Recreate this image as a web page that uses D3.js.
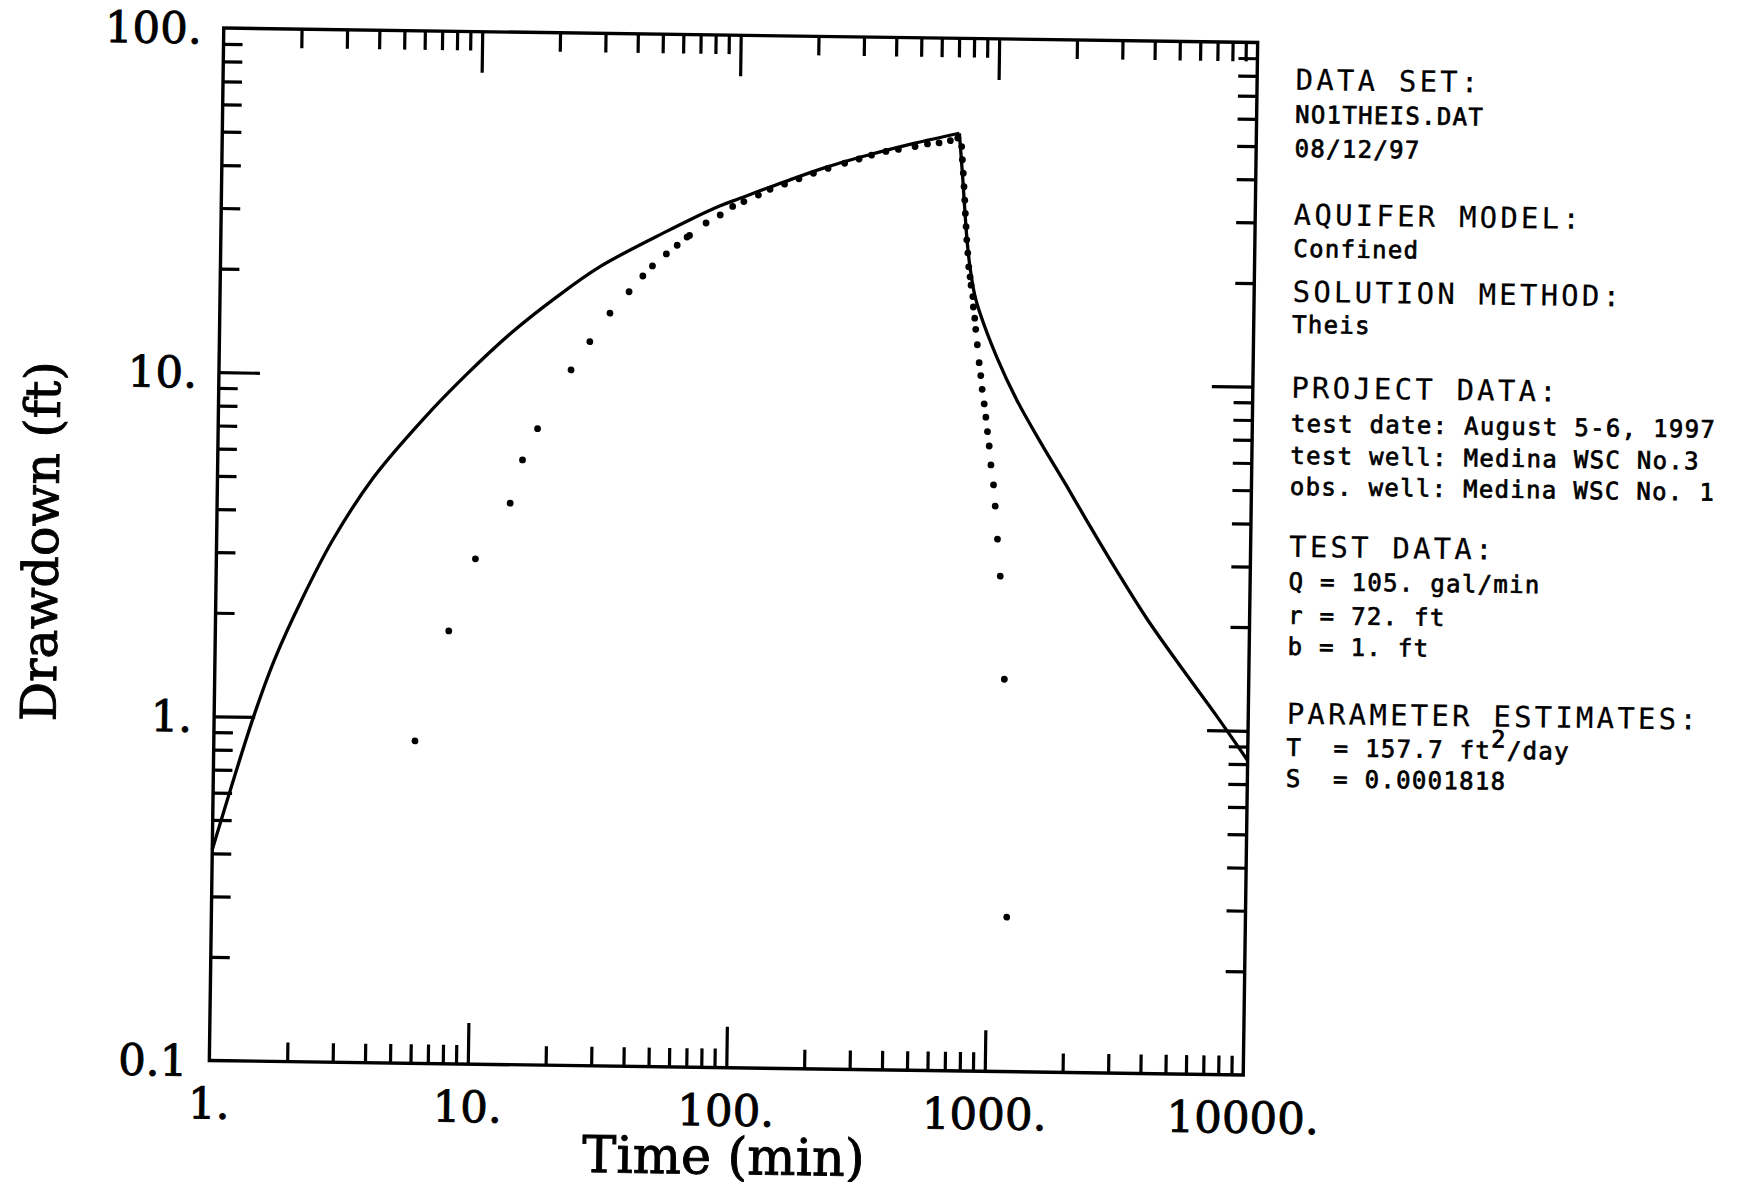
<!DOCTYPE html>
<html><head><meta charset="utf-8">
<script src="https://cdn.jsdelivr.net/npm/d3@7"></script>
<style>
html,body{margin:0;padding:0;background:#fff;}
svg{display:block;}
</style></head>
<body>
<svg id="chart" width="1742" height="1182"></svg>
<script>
// ---------- data ----------
// observed drawdown during pumping (time in min, drawdown in ft)
const pumpTime = [6.0, 8.0, 10.05, 13.6, 15.1, 17.2, 23.0, 27.1, 32.3, 38.2, 43.1, 46.9, 53, 58.3, 63.6, 65, 75.2, 85.2, 95.1, 105, 119.4, 132.4, 150.5, 171.1, 194.5, 221.3, 256.5, 291.5, 325.5, 370, 413, 479, 535, 593, 655.6, 700];
const pumpDrawdown = [0.865, 1.81, 2.94, 4.28, 5.72, 7.06, 10.5, 12.7, 15.4, 17.8, 19.8, 21.2, 23.0, 24.4, 25.8, 26.1, 28.4, 30.0, 31.8, 32.9, 34.4, 35.8, 37.1, 38.5, 40.0, 41.4, 42.9, 44.2, 45.4, 46.6, 47.3, 48.3, 49.2, 49.6, 50.4, 51.3];
// observed drawdown during recovery
const recTime = [726, 731.6, 738.7, 744.7, 750.8, 756.2, 762.2, 768.4, 776.6, 784.3, 794.9, 802.6, 816.4, 821.5, 832.9, 841.4, 855, 871, 885.2, 897.5, 915.7, 931, 946, 962.5, 979.7, 1005, 1023, 1048, 1079, 1134, 1193];
const recDrawdown = [48.5, 44.4, 40.6, 37.1, 33.9, 31.0, 28.4, 26.0, 23.8, 21.7, 20.3, 19.2, 17.8, 16.6, 15.4, 14.3, 12.9, 11.44, 10.5, 9.58, 8.69, 7.95, 7.22, 6.56, 5.78, 5.06, 4.39, 3.52, 2.75, 1.38, 0.281];
// fitted Theis curve, pumping part
const fitPumpTime = [1, 1.42, 1.7, 2.15, 2.82, 4.0, 6.16, 9.1, 13.5, 19.9, 29.4, 53.2, 64.6, 85.1, 101.4, 150.5, 221.3, 325.5, 478.6, 710];
const fitPumpDrawdown = [0.41, 1.0, 1.47, 2.2, 3.3, 5.0, 7.4, 10.1, 13.4, 17.0, 21.0, 26.8, 28.9, 31.9, 33.6, 37.7, 41.9, 45.7, 49.4, 53.0];
// fitted Theis curve, recovery part
const fitRecTime = [710, 722, 736, 754, 772, 793, 830, 873, 1018, 1223, 1512, 1930, 2316, 3046, 4000, 5578, 7551, 10000];
const fitRecDrawdown = [53.0, 46, 39, 31.0, 25.5, 21.7, 18.0, 15.9, 11.9, 8.95, 6.8, 5.05, 4.02, 2.88, 2.1, 1.49, 1.1, 0.82];

const xTickValues = [1, 10, 100, 1000, 10000];
const xTickLabels = ["1.", "10.", "100.", "1000.", "10000."];
const yTickValues = [0.1, 1, 10, 100];
const yTickLabels = ["0.1", "1.", "10.", "100."];
const xTitle = "Time (min)";
const yTitle = "Drawdown (ft)";

const panelText = [
  "DATA SET:", "NO1THEIS.DAT", "08/12/97",
  "AQUIFER MODEL:", "Confined",
  "SOLUTION METHOD:", "Theis",
  "PROJECT DATA:", "test date: August 5-6, 1997", "test well: Medina WSC No.3", "obs. well: Medina WSC No. 1",
  "TEST DATA:", "Q = 105. gal/min", "r = 72. ft", "b = 1. ft",
  "PARAMETER ESTIMATES:", "T  = 157.7 ft^2/day", "S  = 0.0001818"
];
const panelIsHeader = [true, false, false, true, false, true, false, true, false, false, false, true, false, false, false, true, false, false];

// ---------- layout ----------
const L = 216.5, R = 1250.5, T = 35.25, B = 1067.75;
const panelY = [82, 115, 149, 217, 249, 294, 325, 390, 424, 456, 487, 549, 582, 616, 647, 716, 748, 779];
const panelX = 1289;

const svg = d3.select("#chart");
svg.append("rect").attr("width", 1742).attr("height", 1182).attr("fill", "#fff");
const g = svg.append("g").attr("transform", "rotate(0.8 733.5 551.5)");

const x = d3.scaleLog().domain([1, 10000]).range([L, R]);
const y = d3.scaleLog().domain([0.1, 100]).range([B, T]);

const xMinor = [], yMinor = [];
[1, 10, 100, 1000].forEach(d => { for (let k = 2; k <= 9; k++) xMinor.push(k * d); });
[0.1, 1, 10].forEach(d => { for (let k = 2; k <= 9; k++) yMinor.push(+(k * d).toPrecision(3)); });
const xMajor = [10, 100, 1000];
const yMajor = [1, 10];

function styleAxis(sel) {
  sel.select(".domain").remove();
  sel.selectAll("text").remove();
  sel.selectAll("line").attr("stroke", "#000").attr("stroke-width", 3.2);
}
const minorLen = 19, majorLen = 41;
[[xMinor, minorLen], [xMajor, majorLen]].forEach(([vals, len]) => {
  g.append("g").attr("transform", `translate(0,${B})`).call(d3.axisBottom(x).tickValues(vals).tickSize(-len).tickFormat("")).call(styleAxis);
  g.append("g").attr("transform", `translate(0,${T})`).call(d3.axisTop(x).tickValues(vals).tickSize(-len).tickFormat("")).call(styleAxis);
});
[[yMinor, minorLen], [yMajor, majorLen]].forEach(([vals, len]) => {
  g.append("g").attr("transform", `translate(${L},0)`).call(d3.axisLeft(y).tickValues(vals).tickSize(-len).tickFormat("")).call(styleAxis);
  g.append("g").attr("transform", `translate(${R},0)`).call(d3.axisRight(y).tickValues(vals).tickSize(-len).tickFormat("")).call(styleAxis);
});

g.append("rect").attr("x", L).attr("y", T).attr("width", R - L).attr("height", B - T)
  .attr("fill", "none").attr("stroke", "#000").attr("stroke-width", 3.4);

// fitted curve
const line = d3.line().x(d => x(d[0])).y(d => y(d[1])).curve(d3.curveCatmullRom.alpha(0.5));
const fitPump = fitPumpTime.map((t, i) => [t, fitPumpDrawdown[i]]);
const fitRec = fitRecTime.map((t, i) => [t, fitRecDrawdown[i]]);
[fitPump, fitRec].forEach(pts => {
  g.append("path").datum(pts).attr("d", line).attr("fill", "none")
    .attr("stroke", "#000").attr("stroke-width", 3.3).attr("stroke-linejoin", "round");
});

// observed points
const obs = pumpTime.map((t, i) => [t, pumpDrawdown[i]]).concat(recTime.map((t, i) => [t, recDrawdown[i]]));
g.append("g").selectAll("circle").data(obs).join("circle")
  .attr("cx", d => x(d[0])).attr("cy", d => y(d[1])).attr("r", 3.4).attr("fill", "#000");

// tick labels
const serif = "'DejaVu Serif', 'Liberation Serif', serif";
g.append("g").selectAll("text").data(xTickValues).join("text")
  .attr("x", d => x(d)).attr("y", B + 58).attr("text-anchor", "middle")
  .attr("font-family", serif).attr("font-size", 43.5).attr("fill", "#000")
  .attr("stroke", "#000").attr("stroke-width", 0.9)
  .text((d, i) => xTickLabels[i]);
g.append("g").selectAll("text").data(yTickValues).join("text")
  .attr("x", L - 22).attr("y", d => y(d)).attr("dy", "0.36em").attr("text-anchor", "end")
  .attr("font-family", serif).attr("font-size", 43.5).attr("fill", "#000")
  .attr("stroke", "#000").attr("stroke-width", 0.9)
  .text((d, i) => yTickLabels[i]);

// axis titles
g.append("text").attr("x", 732).attr("y", 1174).attr("text-anchor", "middle")
  .attr("font-family", serif).attr("font-size", 51).attr("fill", "#000")
  .attr("stroke", "#000").attr("stroke-width", 0.9).text(xTitle);
g.append("text").attr("transform", "translate(58,551) rotate(-90)").attr("text-anchor", "middle")
  .attr("font-family", serif).attr("font-size", 49).attr("fill", "#000")
  .attr("stroke", "#000").attr("stroke-width", 0.9).text(yTitle);

// info panel
const mono = "'DejaVu Sans Mono', monospace";
panelText.forEach((s, i) => {
  const head = panelIsHeader[i];
  const t = g.append("text").attr("x", panelX).attr("y", panelY[i])
    .attr("font-family", mono).attr("font-size", head ? 29 : 24)
    .attr("letter-spacing", head ? 3.2 : 1.3).attr("fill", "#000")
    .attr("stroke", "#000").attr("stroke-width", head ? 0.2 : 0.7)
    .attr("xml:space", "preserve").style("white-space", "pre");
  if (s.includes("^")) {
    const [a, rest] = s.split("^");
    t.append("tspan").text(a);
    t.append("tspan").attr("dy", -11).text(rest[0]);
    t.append("tspan").attr("dy", 11).text(rest.slice(1));
  } else {
    t.text(s);
  }
});
</script>
</body></html>
